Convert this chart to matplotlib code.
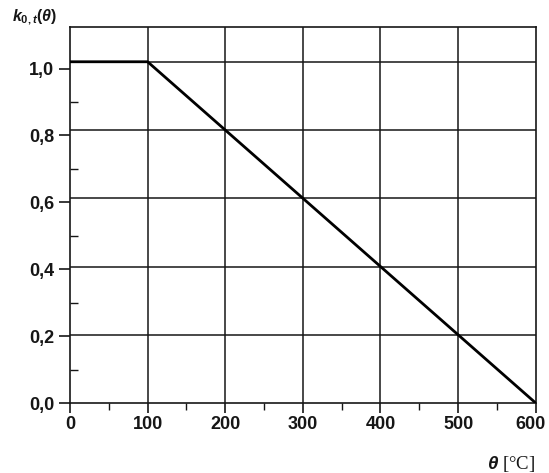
import matplotlib
matplotlib.use("Agg")
import matplotlib.pyplot as plt
from matplotlib.transforms import ScaledTranslation

# reduction factor curve
theta = [0, 100, 600]
k_red = [1.0, 1.0, 0.0]

x_major = [0, 100, 200, 300, 400, 500, 600]
x_minor = [50, 150, 250, 350, 450, 550]
y_grid = [0.2, 0.4, 0.6, 0.8, 1.0]
y_values = [0.0, 0.2, 0.4, 0.6, 0.8, 1.0]
y_labels = ['0,0', '0,2', '0,4', '0,6', '0,8', '1,0']
y_minor = [0.1, 0.3, 0.5, 0.7, 0.9]

# in the scanned original the y tick marks sit a bit below the grid lines
tick_shift = 0.98

plt.rcParams['mathtext.fontset'] = 'custom'
plt.rcParams['mathtext.it'] = 'Liberation Sans:style=italic:weight=bold'
plt.rcParams['mathtext.rm'] = 'Liberation Sans:weight=bold'
plt.rcParams['mathtext.bf'] = 'Liberation Sans:weight=bold'

ink = '#161616'
W, H = 549, 473
fig = plt.figure(figsize=(W / 100, H / 100), dpi=100)
ax = fig.add_axes([70 / W, 1 - 403 / H, (535.7 - 70) / W, (403 - 27.3) / H])

ax.set_xlim(0, 600)
ax.set_ylim(0, 1.101)

# grid
ax.hlines(y_grid, 0, 600, color=ink, lw=1.1, zorder=1)
ax.vlines(x_major[1:-1], 0, 1.101, color=ink, lw=1.1, zorder=1)

ax.plot(theta, k_red, color='black', lw=2.0, zorder=3, solid_joinstyle='miter')

for s in ax.spines.values():
    s.set_color(ink)
    s.set_linewidth(1.2)

ax.set_xticks(x_major)
ax.set_xticklabels([str(v) for v in x_major])
ax.set_xticks(x_minor, minor=True)
ax.set_yticks([v * tick_shift for v in y_values])
ax.set_yticklabels(y_labels)
ax.set_yticks([v * tick_shift for v in y_minor], minor=True)

ax.tick_params(axis='x', which='major', direction='out', length=7, width=1.2,
               color=ink, pad=2.5)
ax.tick_params(axis='x', which='minor', direction='out', length=5, width=1.0,
               color=ink)
ax.tick_params(axis='y', which='major', direction='out', length=8, width=1.2,
               color=ink, pad=3.5)
ax.tick_params(axis='y', which='minor', direction='in', length=6, width=1.0,
               color=ink)

for lab in ax.get_xticklabels() + ax.get_yticklabels():
    lab.set_fontfamily('Liberation Sans')
    lab.set_fontweight('bold')
    lab.set_fontsize(13)
    lab.set_color(ink)

# the last x label sits a little left of its tick, inside the picture
last = ax.get_xticklabels()[-1]
last.set_transform(last.get_transform() + ScaledTranslation(-0.055, 0, fig.dpi_scale_trans))

fig.text(12 / W, 1 - 21 / H, r'$k_{0,t}(\theta)$', fontsize=11.5, color=ink,
         ha='left', va='baseline')
fig.text(487 / W, 1 - 469 / H, r'$\theta$ [°C]', fontsize=13.5,
         fontfamily='Liberation Serif', color=ink, ha='left', va='baseline')

fig.savefig('out.png', dpi=100, facecolor='white')
